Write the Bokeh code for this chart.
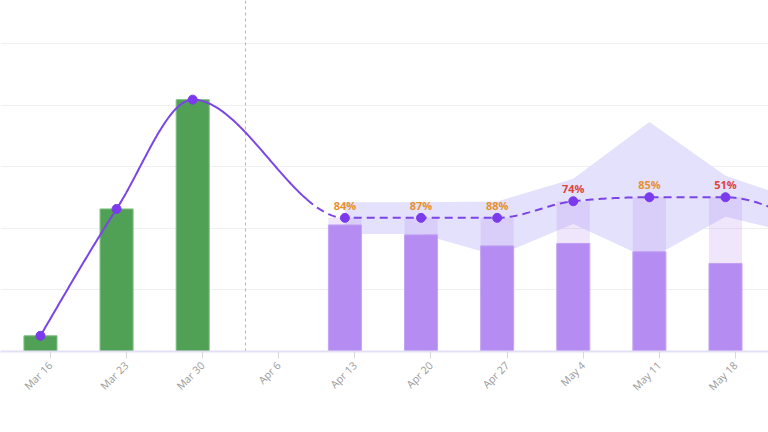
import numpy as np
from bokeh.plotting import figure
from bokeh.models import Range1d, FixedTicker
from bokeh.core.properties import value
from bokeh.embed import file_html
from bokeh.resources import INLINE

weeks = ["Mar 16", "Mar 23", "Mar 30", "Apr 6", "Apr 13", "Apr 20",
         "Apr 27", "May 4", "May 11", "May 18", "May 25"]

# actual weeks (green)
actual_x = [0, 1, 2]
actual = [5.1, 46.3, 81.8]

# forecast weeks
fc_x = [4, 5, 6, 7, 8, 9, 10]
fc_line = [43.4, 43.4, 43.4, 48.8, 50.1, 50.1, 42.3]
fc_hi = [48.5, 48.5, 48.7, 56.1, 74.5, 57.1, 48.7]
fc_lo = [38.2, 38.2, 31.1, 41.4, 30.0, 43.8, 37.8]

# visible forecast bars and labels (Apr 13 .. May 18)
bar_x = [4, 5, 6, 7, 8, 9]
bar_done = [41.1, 37.9, 34.3, 35.1, 32.4, 28.6]
pct = [84, 87, 88, 74, 85, 51]
pct_color = ["#e8902c", "#e8902c", "#e8902c", "#e0433b", "#e8902c", "#e0433b"]

today_x = 2.7
split_x = 3.5


def monotone(xs, ys):
    xs = np.asarray(xs, float)
    ys = np.asarray(ys, float)
    h = np.diff(xs)
    s = np.diff(ys) / h
    m = np.zeros_like(ys)
    for i in range(1, len(xs) - 1):
        p = (s[i - 1] * h[i] + s[i] * h[i - 1]) / (h[i - 1] + h[i])
        m[i] = (np.sign(s[i - 1]) + np.sign(s[i])) * min(abs(s[i - 1]), abs(s[i]), 0.5 * abs(p))
    m[0] = (3 * s[0] - m[1]) / 2
    m[-1] = (3 * s[-1] - m[-2]) / 2

    def at(q):
        q = np.asarray(q, float)
        k = np.clip(np.searchsorted(xs, q) - 1, 0, len(xs) - 2)
        t = (q - xs[k]) / h[k]
        h00 = 2 * t**3 - 3 * t**2 + 1
        h10 = t**3 - 2 * t**2 + t
        h01 = -2 * t**3 + 3 * t**2
        h11 = t**3 - t**2
        return h00 * ys[k] + h10 * h[k] * m[k] + h01 * ys[k + 1] + h11 * h[k] * m[k + 1]
    return at


line_x = actual_x + fc_x
line_y = actual + fc_line
curve = monotone(line_x, line_y)

p = figure(width=768, height=432,
           output_backend="svg", toolbar_location=None,
           x_range=Range1d(-0.525, 9.565), y_range=Range1d(0, 114),
           y_axis_location=None,
           min_border_left=0, min_border_right=0, min_border_top=0,
           min_border_bottom=81)
p.outline_line_color = None
p.background_fill_color = "white"
p.border_fill_color = "white"

p.xgrid.visible = False
p.ygrid.ticker = FixedTicker(ticks=[20, 40, 60, 80, 100])
p.ygrid.grid_line_color = "#efefef"
p.ygrid.grid_line_width = 1

# confidence band
p.varea(x=fc_x, y1=fc_lo, y2=fc_hi, fill_color="#e3e1fc", fill_alpha=1.0)

# today marker
p.vspan(x=[today_x], line_color="#b5b5b5", line_width=1, line_dash="3 3")

# bars
p.vbar(x=actual_x, top=actual, width=0.434, fill_color="#50a055",
       line_color="#7dbf80", line_width=1)
p.vbar(x=bar_x, top=bar_done, width=0.434, fill_color="#b48cf2",
       line_color="#c3a3f5", line_width=1)
p.vbar(x=bar_x, bottom=bar_done, top=fc_line[:6], width=0.434,
       fill_color="#b48cf2", fill_alpha=0.22, line_color=None)

# smooth line: solid for the past, dashed for forecast
xs_solid = np.linspace(line_x[0], split_x, 300)
xs_dash = np.linspace(split_x, line_x[-1], 600)
p.line(xs_solid, curve(xs_solid), line_color="#7b45e6", line_width=2)
p.line(xs_dash, curve(xs_dash), line_color="#7b45e6", line_width=2,
       line_dash="8 5")

p.scatter(x=line_x, y=line_y, size=9, fill_color="#7c3aed",
          line_color="#7c3aed")

p.text(x=bar_x, y=fc_line[:6], text=[f"{v}%" for v in pct],
       text_color=pct_color, text_align="center", text_baseline="bottom",
       y_offset=-5, text_font=value("Open Sans"), text_font_size="11px",
       text_font_style="bold")

ax = p.xaxis[0]
ax.ticker = FixedTicker(ticks=[i + 0.13 for i in range(len(weeks))])
ax.major_label_overrides = {i + 0.13: w for i, w in enumerate(weeks)}
ax.major_label_orientation = np.pi / 4
ax.major_label_text_color = "#9a9a9a"
ax.major_label_text_font = "Open Sans"
ax.major_label_text_font_size = "10.5px"
ax.axis_line_color = "#e3e0f3"
ax.axis_line_width = 2
ax.major_tick_line_color = "#d8d8d8"
ax.major_tick_out = 7
ax.major_tick_in = 0
ax.minor_tick_line_color = None

open("out.html", "w").write(file_html(p, INLINE))
